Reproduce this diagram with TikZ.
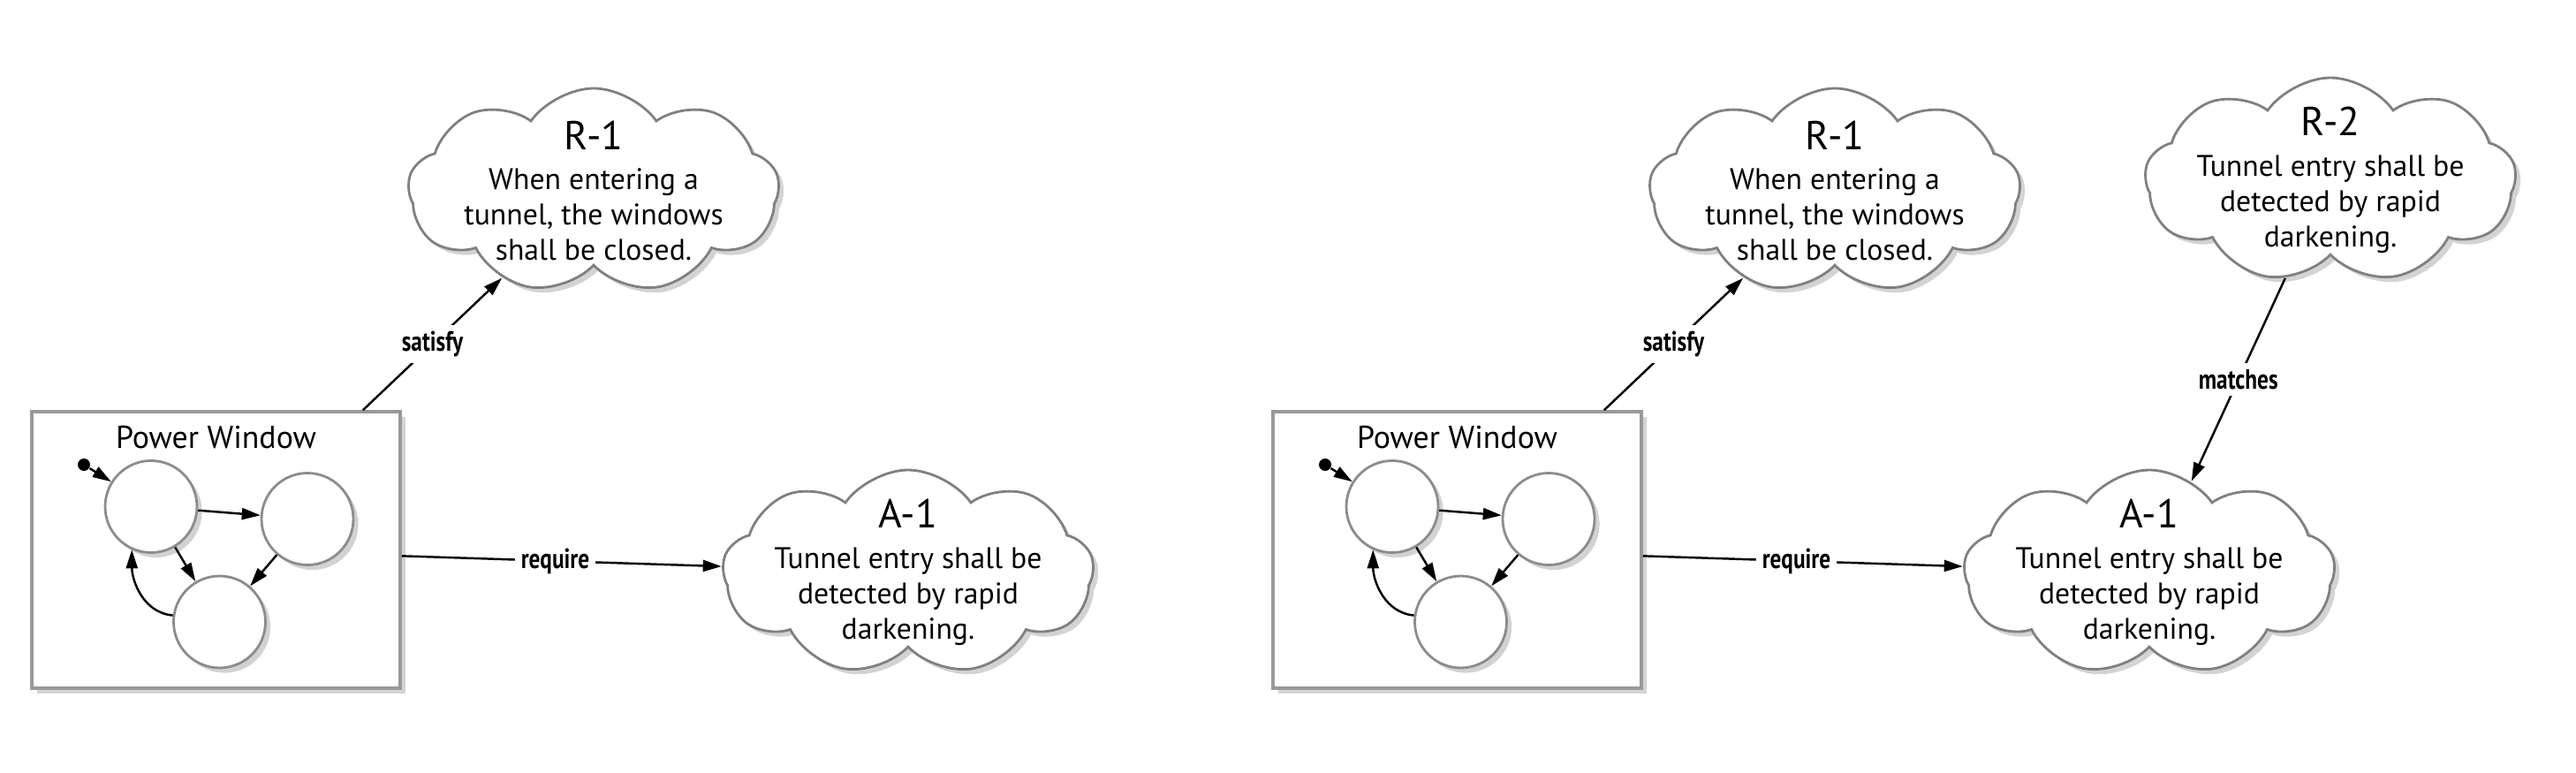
\documentclass[tikz,border=0pt]{standalone}
\usepackage{fontspec}
\setmainfont{PT Sans}
\newfontfamily\lblfont[FakeStretch=0.8]{PT Sans}
\usetikzlibrary{arrows.meta, shapes.symbols, shadows}

\tikzset{
  softshadow/.style={drop shadow={shadow xshift=1.6pt, shadow yshift=-1.6pt, opacity=0.35}},
  req/.style={cloud, cloud puffs=9, cloud puff arc=110, cloud ignores aspect,
    draw=black!50, line width=0.8pt, fill=white, inner sep=0pt,
    minimum width=4.2cm, minimum height=2.32cm, softshadow},
  reqtext/.style={align=center, inner sep=0pt, font=\fontsize{9.6}{11.4}\selectfont},
  state/.style={circle, draw=black!45, line width=0.8pt, fill=white,
    minimum size=1.04cm, inner sep=0pt, softshadow},
  pwbox/.style={rectangle, draw=black!40, line width=1pt, fill=white,
    minimum width=4.17cm, minimum height=3.13cm, softshadow},
  pwtitle/.style={anchor=base, inner sep=0pt, font=\fontsize{10.2}{12}\selectfont},
  initdot/.style={circle, fill=black, inner sep=0pt, minimum size=1.4mm},
  lbl/.style={fill=white, inner sep=2pt, font=\lblfont\bfseries\fontsize{9}{10}\selectfont},
  link/.style={-{Triangle[length=2.1mm,width=1.3mm]}, line width=0.7pt},
}

\begin{document}
\begin{tikzpicture}
\useasboundingbox (0,0) rectangle (29.16,8.74);
%------------------- left: Power Window ----------------------
\node[pwbox] (pwA) at (2.445,2.515) {};
\node[pwtitle] (pwAtitle) at (2.445,3.67) {Power Window};
\node[state] (sA1) at (1.71,3.005) {};
\node[state] (sA2) at (3.48,2.865) {};
\node[state] (sA3) at (2.485,1.70) {};
\node[initdot] (initA) at (0.95,3.48) {};
\draw[link] (initA) -- (sA1);
\draw[link] (sA1) -- (sA2);
\draw[link] (sA1) -- (sA3);
\draw[link] (sA2) -- (sA3);
\draw[link] (sA3.172) to[out=175,in=-90] (sA1.246);
%------------------- left: requirements ----------------------
\node[req] (rA1) at (6.72,6.58) {};
\node[reqtext] (rA1text) at (rA1) {{\fontsize{13}{14}\selectfont R-1}\\[1.5pt]
  When entering a\\ tunnel, the windows\\ shall be closed.};
\node[req] (aA1) at (10.28,2.26) {};
\node[reqtext] (aA1text) at (aA1) {{\fontsize{13}{14}\selectfont A-1}\\[1.5pt]
  Tunnel entry shall be\\ detected by rapid\\ darkening.};
\draw[link] (pwA) -- node[lbl] {satisfy} (rA1);
\draw[link] (pwA) -- node[lbl,pos=0.48] {require} (aA1);

%------------------- right: Power Window ---------------------
\node[pwbox] (pwB) at (16.495,2.515) {};
\node[pwtitle] (pwBtitle) at (16.495,3.67) {Power Window};
\node[state] (sB1) at (15.76,3.005) {};
\node[state] (sB2) at (17.53,2.865) {};
\node[state] (sB3) at (16.535,1.70) {};
\node[initdot] (initB) at (15.00,3.48) {};
\draw[link] (initB) -- (sB1);
\draw[link] (sB1) -- (sB2);
\draw[link] (sB1) -- (sB3);
\draw[link] (sB2) -- (sB3);
\draw[link] (sB3.172) to[out=175,in=-90] (sB1.246);
%------------------- right: requirements ---------------------
\node[req] (rB1) at (20.77,6.58) {};
\node[reqtext] (rB1text) at (rB1) {{\fontsize{13}{14}\selectfont R-1}\\[1.5pt]
  When entering a\\ tunnel, the windows\\ shall be closed.};
\node[req] (aB1) at (24.33,2.26) {};
\node[reqtext] (aB1text) at (aB1) {{\fontsize{13}{14}\selectfont A-1}\\[1.5pt]
  Tunnel entry shall be\\ detected by rapid\\ darkening.};
\node[req] (rB2) at (26.38,6.70) {};
\node[reqtext] (rB2text) at (rB2) {{\fontsize{13}{14}\selectfont R-2}\\[1.5pt]
  Tunnel entry shall be\\ detected by rapid\\ darkening.};
\draw[link] (pwB) -- node[lbl] {satisfy} (rB1);
\draw[link] (pwB) -- node[lbl,pos=0.48] {require} (aB1);
\draw[link] (rB2) -- node[lbl] {matches} (aB1);

\end{tikzpicture}
\end{document}
